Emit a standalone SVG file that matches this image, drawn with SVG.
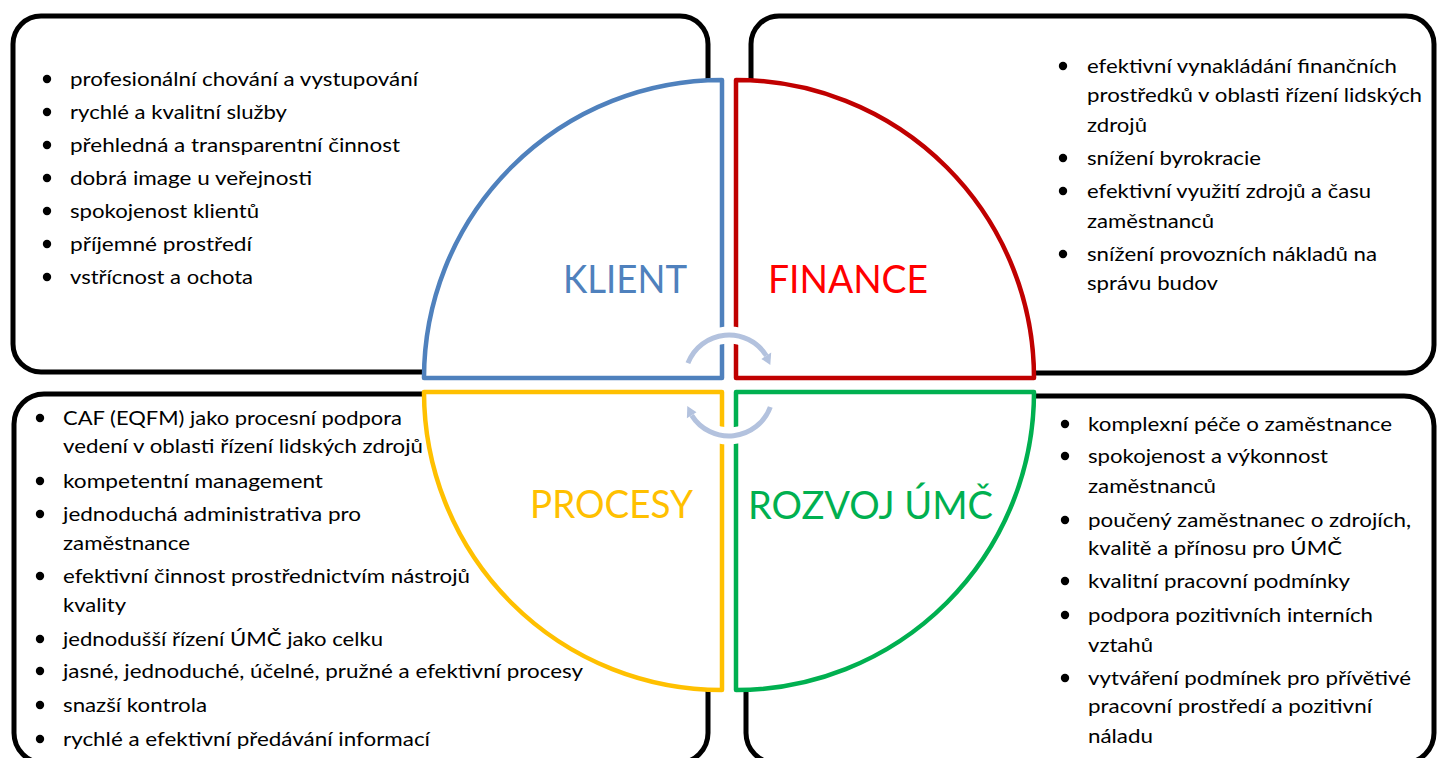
<svg xmlns="http://www.w3.org/2000/svg" width="1437" height="758" viewBox="0 0 1437 758">
<style>
.box{fill:#fff;stroke:#000;stroke-width:5}
.pie{fill:#fff;stroke-width:4.5;stroke-linejoin:round}
.t{font-family:Lato,"Liberation Sans",sans-serif;font-size:20px;fill:#000}
.ttl{font-family:Lato,"Liberation Sans",sans-serif;font-size:38px}
.halo{fill:none;stroke:#fff;stroke-width:17}
.arc{fill:none;stroke:#B3C2DE;stroke-width:5}
.ah{fill:#B3C2DE}
.b{fill:#000}
</style>
<rect width="1437" height="758" fill="#fff"/>
<g id="box-klient"><rect class="box" x="13" y="16" width="695" height="356" rx="28"/></g>
<g id="box-finance"><rect class="box" x="751" y="16" width="683" height="357" rx="28"/></g>
<g id="box-procesy"><rect class="box" x="14" y="394" width="694" height="369" rx="30"/></g>
<g id="box-rozvoj"><rect class="box" x="746" y="396" width="688" height="367" rx="30"/></g>

<g id="pie-klient"><path class="pie" stroke="#4F81BD" d="M722,80 V378 H424 A298,298 0 0 1 722,80 Z"/>
<text class="ttl" fill="#4F81BD" x="563" y="293" textLength="124" lengthAdjust="spacingAndGlyphs">KLIENT</text></g>
<g id="pie-finance"><path class="pie" stroke="#C00000" d="M736,80 A298,298 0 0 1 1034,378 H736 Z"/>
<text class="ttl" fill="#FF0000" x="768" y="293" textLength="160" lengthAdjust="spacingAndGlyphs">FINANCE</text></g>
<g id="pie-procesy"><path class="pie" stroke="#FFC000" d="M722,392 V690 A298,298 0 0 1 424,392 Z"/>
<text class="ttl" fill="#FFC000" x="530" y="518" textLength="163" lengthAdjust="spacingAndGlyphs">PROCESY</text></g>
<g id="pie-rozvoj"><path class="pie" stroke="#00B050" d="M736,392 H1034 A298,298 0 0 1 736,690 Z"/>
<text class="ttl" fill="#00B050" x="748" y="519" textLength="245" lengthAdjust="spacingAndGlyphs">ROZVOJ ÚMČ</text></g>

<g id="connectors">
<path class="halo" d="M687.9,363.2 A44,44 0 0 1 766.3,355.7"/>
<path class="halo" d="M770.3,407 A44,44 0 0 1 691.7,415.3"/>
<path class="arc" d="M687.9,363.2 A44,44 0 0 1 766.3,355.7"/>
<polygon class="ah" points="771.2,352.5 761.4,358.9 770.3,365"/>
<path class="arc" d="M770.3,407 A44,44 0 0 1 691.7,415.3"/>
<polygon class="ah" points="686.9,418.3 696.5,412.2 687.3,406"/>
</g>

<g id="list-klient">
<circle class="b" cx="47" cy="79" r="4.2"/><text class="t" x="70" y="86" textLength="348" lengthAdjust="spacingAndGlyphs">profesionální chování a vystupování</text>
<circle class="b" cx="47" cy="112" r="4.2"/><text class="t" x="70" y="119" textLength="217" lengthAdjust="spacingAndGlyphs">rychlé a kvalitní služby</text>
<circle class="b" cx="47" cy="145" r="4.2"/><text class="t" x="70" y="152" textLength="330" lengthAdjust="spacingAndGlyphs">přehledná a transparentní činnost</text>
<circle class="b" cx="47" cy="178" r="4.2"/><text class="t" x="70" y="185" textLength="242" lengthAdjust="spacingAndGlyphs">dobrá image u veřejnosti</text>
<circle class="b" cx="47" cy="211" r="4.2"/><text class="t" x="70" y="218" textLength="189" lengthAdjust="spacingAndGlyphs">spokojenost klientů</text>
<circle class="b" cx="47" cy="244" r="4.2"/><text class="t" x="70" y="251" textLength="182" lengthAdjust="spacingAndGlyphs">příjemné prostředí</text>
<circle class="b" cx="47" cy="277" r="4.2"/><text class="t" x="70" y="284" textLength="183" lengthAdjust="spacingAndGlyphs">vstřícnost a ochota</text>
</g>

<g id="list-finance">
<circle class="b" cx="1063" cy="66" r="4.2"/><text class="t" x="1087" y="73" textLength="310" lengthAdjust="spacingAndGlyphs">efektivní vynakládání finančních</text>
<text class="t" x="1087" y="102" textLength="335" lengthAdjust="spacingAndGlyphs">prostředků v oblasti řízení lidských</text>
<text class="t" x="1087" y="132" textLength="60" lengthAdjust="spacingAndGlyphs">zdrojů</text>
<circle class="b" cx="1063" cy="158" r="4.2"/><text class="t" x="1087" y="165" textLength="174" lengthAdjust="spacingAndGlyphs">snížení byrokracie</text>
<circle class="b" cx="1063" cy="191" r="4.2"/><text class="t" x="1087" y="198" textLength="284" lengthAdjust="spacingAndGlyphs">efektivní využití zdrojů a času</text>
<text class="t" x="1087" y="228" textLength="127" lengthAdjust="spacingAndGlyphs">zaměstnanců</text>
<circle class="b" cx="1063" cy="254" r="4.2"/><text class="t" x="1087" y="261" textLength="290" lengthAdjust="spacingAndGlyphs">snížení provozních nákladů na</text>
<text class="t" x="1087" y="290" textLength="131" lengthAdjust="spacingAndGlyphs">správu budov</text>
</g>

<g id="list-procesy">
<circle class="b" cx="40" cy="418" r="4.2"/><text class="t" x="63" y="425" textLength="339" lengthAdjust="spacingAndGlyphs">CAF (EQFM) jako procesní podpora</text>
<text class="t" x="63" y="453" textLength="360" lengthAdjust="spacingAndGlyphs">vedení v oblasti řízení lidských zdrojů</text>
<circle class="b" cx="40" cy="481" r="4.2"/><text class="t" x="63" y="488" textLength="260" lengthAdjust="spacingAndGlyphs">kompetentní management</text>
<circle class="b" cx="40" cy="514" r="4.2"/><text class="t" x="63" y="521" textLength="298" lengthAdjust="spacingAndGlyphs">jednoduchá administrativa pro</text>
<text class="t" x="63" y="550" textLength="127" lengthAdjust="spacingAndGlyphs">zaměstnance</text>
<circle class="b" cx="40" cy="576" r="4.2"/><text class="t" x="63" y="583" textLength="407" lengthAdjust="spacingAndGlyphs">efektivní činnost prostřednictvím nástrojů</text>
<text class="t" x="63" y="612" textLength="63" lengthAdjust="spacingAndGlyphs">kvality</text>
<circle class="b" cx="40" cy="639" r="4.2"/><text class="t" x="63" y="646" textLength="320" lengthAdjust="spacingAndGlyphs">jednodušší řízení ÚMČ jako celku</text>
<circle class="b" cx="40" cy="671" r="4.2"/><text class="t" x="63" y="678" textLength="520" lengthAdjust="spacingAndGlyphs">jasné, jednoduché, účelné, pružné a efektivní procesy</text>
<circle class="b" cx="40" cy="705" r="4.2"/><text class="t" x="63" y="712" textLength="144" lengthAdjust="spacingAndGlyphs">snazší kontrola</text>
<circle class="b" cx="40" cy="739" r="4.2"/><text class="t" x="63" y="746" textLength="367" lengthAdjust="spacingAndGlyphs">rychlé a efektivní předávání informací</text>
</g>

<g id="list-rozvoj">
<circle class="b" cx="1065" cy="424" r="4.2"/><text class="t" x="1088" y="431" textLength="304" lengthAdjust="spacingAndGlyphs">komplexní péče o zaměstnance</text>
<circle class="b" cx="1065" cy="456" r="4.2"/><text class="t" x="1088" y="463" textLength="240" lengthAdjust="spacingAndGlyphs">spokojenost a výkonnost</text>
<text class="t" x="1088" y="493" textLength="128" lengthAdjust="spacingAndGlyphs">zaměstnanců</text>
<circle class="b" cx="1065" cy="520" r="4.2"/><text class="t" x="1088" y="527" textLength="323" lengthAdjust="spacingAndGlyphs">poučený zaměstnanec o zdrojích,</text>
<text class="t" x="1088" y="555" textLength="254" lengthAdjust="spacingAndGlyphs">kvalitě a přínosu pro ÚMČ</text>
<circle class="b" cx="1065" cy="581" r="4.2"/><text class="t" x="1088" y="588" textLength="262" lengthAdjust="spacingAndGlyphs">kvalitní pracovní podmínky</text>
<circle class="b" cx="1065" cy="615" r="4.2"/><text class="t" x="1088" y="622" textLength="285" lengthAdjust="spacingAndGlyphs">podpora pozitivních interních</text>
<text class="t" x="1088" y="652" textLength="65" lengthAdjust="spacingAndGlyphs">vztahů</text>
<circle class="b" cx="1065" cy="678" r="4.2"/><text class="t" x="1088" y="685" textLength="323" lengthAdjust="spacingAndGlyphs">vytváření podmínek pro přívětivé</text>
<text class="t" x="1088" y="713" textLength="284" lengthAdjust="spacingAndGlyphs">pracovní prostředí a pozitivní</text>
<text class="t" x="1088" y="743" textLength="65" lengthAdjust="spacingAndGlyphs">náladu</text>
</g>
</svg>
